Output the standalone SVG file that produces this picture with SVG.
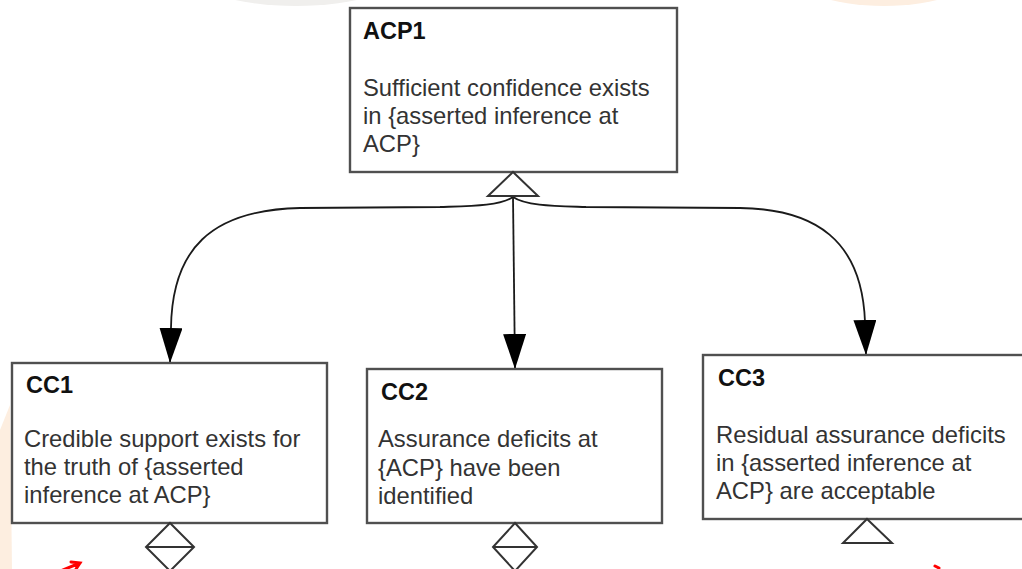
<svg xmlns="http://www.w3.org/2000/svg" width="1022" height="569" viewBox="0 0 1022 569">
  <style>
    .box { fill: #ffffff; stroke: #505050; stroke-width: 2.4; }
    .title { font-family: "Liberation Sans", Arial, sans-serif; font-size: 23.5px; font-weight: bold; fill: #111111; }
    .body { font-family: "Liberation Sans", Arial, sans-serif; font-size: 23.8px; fill: #333333; }
    .edge { fill: none; stroke: #1a1a1a; stroke-width: 1.8; }
    .hollow { fill: #ffffff; stroke: #333333; stroke-width: 2; stroke-linejoin: miter; }
    .mark { fill: none; stroke: #ff0000; stroke-width: 3; stroke-linecap: round; }
  </style>
  <defs>
    <marker id="arrow" viewBox="0 0 35 23" refX="35" refY="11.5" markerWidth="35" markerHeight="23" markerUnits="userSpaceOnUse" orient="auto">
      <path d="M0,0 L35,11.5 L0,23 Z" fill="#000000"/>
    </marker>
  </defs>

  <rect x="0" y="0" width="1022" height="569" fill="#ffffff"/>

  <!-- faint background shapes -->
  <g id="backdrop">
    <ellipse cx="296" cy="-30" rx="110" ry="36" fill="#f0efed"/>
    <ellipse cx="884" cy="-30" rx="96" ry="36" fill="#fdeee0"/>
    <path d="M0,430 L10,405 L12,569 L0,569 Z" fill="#fdeee0"/>
  </g>

  <!-- connectors -->
  <g id="connectors">
    <path class="edge" d="M513,197 C 500,206 470,206 440,207 L 300,208 C 210,210 172,250 171,328 L 170,363" marker-end="url(#arrow)"/>
    <path class="edge" d="M513,197 L 515,369" marker-end="url(#arrow)"/>
    <path class="edge" d="M513,197 C 526,206 556,206 586,207 L 740,208 C 815,209 862,240 865,322 L 866,355" marker-end="url(#arrow)"/>
  </g>

  <g id="ACP1">
    <rect class="box" x="350" y="8" width="327" height="164"/>
    <text class="title" x="363" y="39">ACP1</text>
    <text class="body" x="363" y="96">Sufficient confidence exists</text>
    <text class="body" x="363" y="124">in {asserted inference at</text>
    <text class="body" x="363" y="151.5">ACP}</text>
    <polygon class="hollow" points="513,172 538,196 488,196"/>
  </g>

  <g id="CC1">
    <rect class="box" x="12" y="363" width="315" height="160"/>
    <text class="title" x="26" y="393">CC1</text>
    <text class="body" x="24" y="447">Credible support exists for</text>
    <text class="body" x="24" y="475">the truth of {asserted</text>
    <text class="body" x="24" y="503">inference at ACP}</text>
    <polygon class="hollow" points="170,523 194,547 170,571 146,547"/>
    <line class="hollow" x1="146" y1="547" x2="194" y2="547"/>
  </g>

  <g id="CC2">
    <rect class="box" x="367" y="369" width="295" height="154"/>
    <text class="title" x="381" y="400">CC2</text>
    <text class="body" x="378" y="447">Assurance deficits at</text>
    <text class="body" x="378" y="476">{ACP} have been</text>
    <text class="body" x="378" y="504">identified</text>
    <polygon class="hollow" points="515,523 537,547 515,571 493,547"/>
    <line class="hollow" x1="493" y1="547" x2="537" y2="547"/>
  </g>

  <g id="CC3">
    <rect class="box" x="703" y="355" width="330" height="164"/>
    <text class="title" x="718" y="386">CC3</text>
    <text class="body" x="716" y="443">Residual assurance deficits</text>
    <text class="body" x="716" y="471">in {asserted inference at</text>
    <text class="body" x="716" y="499">ACP} are acceptable</text>
    <polygon class="hollow" points="867,519 892,543 843,543"/>
  </g>

  <!-- red pointer marks along the bottom edge -->
  <g id="marks">
    <path class="mark" d="M58,572 L80,563 M71,562 L80,563 L76,569"/>
    <path class="mark" d="M935,566 L939,568"/>
  </g>
</svg>
